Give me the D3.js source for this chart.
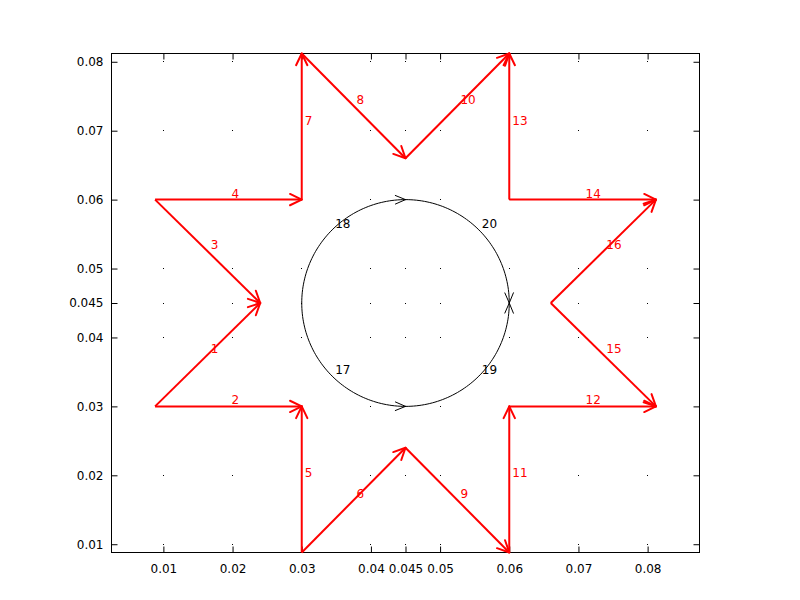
<!DOCTYPE html>
<html>
<head>
<meta charset="utf-8">
<script src="https://cdn.jsdelivr.net/npm/d3@7"></script>
<style>
  body { margin: 0; background: #fff; }
  text { font-family: "DejaVu Sans", sans-serif; }
</style>
</head>
<body>
<div id="chart"></div>
<script>
// Achsen-Ticks
const xTicks = [0.01, 0.02, 0.03, 0.04, 0.045, 0.05, 0.06, 0.07, 0.08];
const xTickLabels = ["0.01", "0.02", "0.03", "0.04", "0.045", "0.05", "0.06", "0.07", "0.08"];
const yTicks = [0.01, 0.02, 0.03, 0.04, 0.045, 0.05, 0.06, 0.07, 0.08];
const yTickLabels = ["0.01", "0.02", "0.03", "0.04", "0.045", "0.05", "0.06", "0.07", "0.08"];

// Rote Vektoren 1..16 (Start -> Ende)
const vecNames = ["1", "2", "3", "4", "5", "6", "7", "8", "9", "10", "11", "12", "13", "14", "15", "16"];
const vecX0 = [0.0088, 0.0088, 0.0088, 0.0088, 0.03, 0.03, 0.03, 0.03, 0.045, 0.045, 0.06, 0.06, 0.06, 0.06, 0.066, 0.066];
const vecY0 = [0.03, 0.03, 0.06, 0.06, 0.0088, 0.0088, 0.06, 0.0812, 0.024, 0.066, 0.0088, 0.03, 0.06, 0.06, 0.045, 0.045];
const vecX1 = [0.024, 0.03, 0.024, 0.03, 0.03, 0.045, 0.03, 0.045, 0.06, 0.06, 0.06, 0.0812, 0.06, 0.0812, 0.0812, 0.0812];
const vecY1 = [0.045, 0.03, 0.045, 0.06, 0.03, 0.024, 0.0812, 0.066, 0.0088, 0.0812, 0.03, 0.03, 0.0812, 0.06, 0.03, 0.06];

// Kreisboegen 17..20 (Mittelpunkt, Radius, Winkel in Grad)
const arcNames = ["17", "18", "19", "20"];
const arcCenter = [0.045, 0.045];
const arcRadius = 0.015;
const arcStart = [180, 180, 270, 90];
const arcEnd = [270, 90, 360, 0];

const width = 800;
const height = 600;
const plotLeft = 111.5, plotRight = 699.5, plotTop = 53.5, plotBottom = 552.5;

const svg = d3.select("#chart").append("svg")
    .attr("width", width)
    .attr("height", height);

const x = d3.scaleLinear().domain([0.0025, 0.0875]).range([plotLeft, plotRight]);
const y = d3.scaleLinear().domain([0.0088, 0.0812]).range([plotBottom, plotTop]);

// Gitterpunkte
xTicks.forEach(tx => {
    yTicks.forEach(ty => {
        svg.append("rect")
            .attr("x", Math.floor(x(tx)))
            .attr("y", Math.floor(y(ty)))
            .attr("width", 1)
            .attr("height", 1)
            .style("fill", "#000");
    });
});

// Achsen
function styleAxis(g) {
    g.select(".domain").remove();
    g.selectAll(".tick line").attr("stroke", "#000");
    g.selectAll(".tick text")
        .style("font-size", "12px")
        .style("font-family", "'DejaVu Sans', sans-serif")
        .attr("fill", "#000");
}

svg.append("g")
    .attr("transform", `translate(0,${plotBottom})`)
    .call(d3.axisBottom(x).tickValues(xTicks).tickFormat((d, i) => xTickLabels[i])
        .tickSize(-6).tickPadding(12))
    .call(styleAxis);

svg.append("g")
    .attr("transform", `translate(0,${plotTop})`)
    .call(d3.axisTop(x).tickValues(xTicks).tickFormat("").tickSize(-6))
    .call(styleAxis);

svg.append("g")
    .attr("transform", `translate(${plotLeft},0)`)
    .call(d3.axisLeft(y).tickValues(yTicks).tickFormat((d, i) => yTickLabels[i])
        .tickSize(-6).tickPadding(8))
    .call(styleAxis);

svg.append("g")
    .attr("transform", `translate(${plotRight},0)`)
    .call(d3.axisRight(y).tickValues(yTicks).tickFormat("").tickSize(-6))
    .call(styleAxis);

// Rahmen
svg.append("rect")
    .attr("x", plotLeft)
    .attr("y", plotTop)
    .attr("width", plotRight - plotLeft)
    .attr("height", plotBottom - plotTop)
    .style("fill", "none")
    .style("stroke", "#000")
    .style("stroke-width", 1);

// offene Pfeilspitze
function arrowHead(px, py, ang, len, spread, color, lw) {
    [-spread, spread].forEach(s => {
        const a = ang + Math.PI + s;
        svg.append("line")
            .attr("x1", px)
            .attr("y1", py)
            .attr("x2", px + len * Math.cos(a))
            .attr("y2", py + len * Math.sin(a))
            .style("stroke", color)
            .style("stroke-width", lw)
            .style("stroke-linecap", "round");
    });
}

// Kreisboegen zeichnen
const arcLine = d3.line().x(d => x(d[0])).y(d => y(d[1]));
arcNames.forEach((name, i) => {
    const pts = d3.range(0, 61).map(k => {
        const t = (arcStart[i] + (arcEnd[i] - arcStart[i]) * k / 60) * Math.PI / 180;
        return [arcCenter[0] + arcRadius * Math.cos(t), arcCenter[1] + arcRadius * Math.sin(t)];
    });
    svg.append("path")
        .attr("d", arcLine(pts))
        .style("fill", "none")
        .style("stroke", "#000")
        .style("stroke-width", 1);

    const p1 = pts[pts.length - 2], p2 = pts[pts.length - 1];
    const ang = Math.atan2(y(p2[1]) - y(p1[1]), x(p2[0]) - x(p1[0]));
    arrowHead(x(p2[0]), y(p2[1]), ang, 11, 0.4, "#000", 1);

    const mid = pts[30];
    svg.append("text")
        .attr("x", x(mid[0]) + 3)
        .attr("y", y(mid[1]) - 2)
        .text(name)
        .style("font-size", "12px")
        .style("fill", "#000");
});

// Rote Vektoren zeichnen
vecNames.forEach((name, i) => {
    const sx = x(vecX0[i]), sy = y(vecY0[i]);
    const ex = x(vecX1[i]), ey = y(vecY1[i]);
    svg.append("line")
        .attr("x1", sx)
        .attr("y1", sy)
        .attr("x2", ex)
        .attr("y2", ey)
        .style("stroke", "#f00")
        .style("stroke-width", 2);
    arrowHead(ex, ey, Math.atan2(ey - sy, ex - sx), 13, 0.45, "#f00", 2);

    svg.append("text")
        .attr("x", (sx + ex) / 2 + 3)
        .attr("y", (sy + ey) / 2 - 2)
        .text(name)
        .style("font-size", "12px")
        .style("fill", "#f00");
});
</script>
</body>
</html>
